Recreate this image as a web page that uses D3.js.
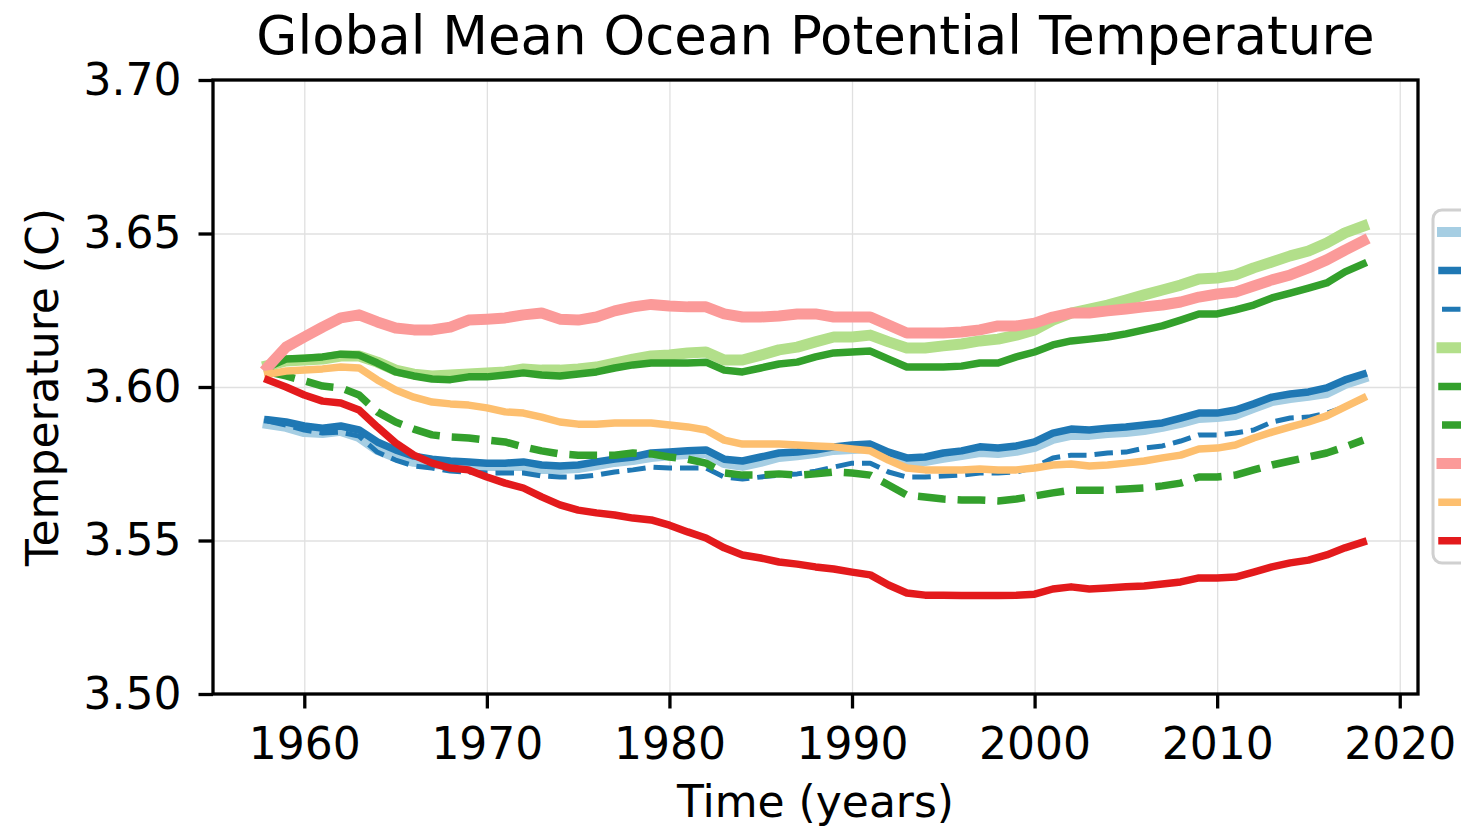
<!DOCTYPE html>
<html>
<head>
<meta charset="utf-8">
<script src="https://cdn.jsdelivr.net/npm/d3@7"></script>
<style>
  body { margin: 0; background: #fff; }
  text { font-family: "DejaVu Sans", sans-serif; fill: #000; }
</style>
</head>
<body>
<svg id="chart"></svg>
<script>
var width = 1461; // Width of the SVG element
var height = 828; // Height of the SVG element
var margin = { top: 80, right: 43, bottom: 134, left: 213 };
var plotW = width - margin.left - margin.right;
var plotH = height - margin.top - margin.bottom;

// Years on the x axis
var years = [1958, 1959, 1960, 1961, 1962, 1963, 1964, 1965, 1966, 1967,
  1968, 1969, 1970, 1971, 1972, 1973, 1974, 1975, 1976, 1977,
  1978, 1979, 1980, 1981, 1982, 1983, 1984, 1985, 1986, 1987,
  1988, 1989, 1990, 1991, 1992, 1993, 1994, 1995, 1996, 1997,
  1998, 1999, 2000, 2001, 2002, 2003, 2004, 2005, 2006, 2007,
  2008, 2009, 2010, 2011, 2012, 2013, 2014, 2015, 2016, 2017, 2018];

var xTicks = [1960, 1970, 1980, 1990, 2000, 2010, 2020];
var yTicks = [3.50, 3.55, 3.60, 3.65, 3.70];

// Series values (degrees C)
var lightBlue = [3.5879, 3.5870, 3.5853, 3.5850, 3.5857, 3.5837, 3.5795, 3.5772, 3.5756, 3.5749,
  3.5746, 3.5743, 3.5743, 3.5743, 3.5743, 3.5733, 3.5733, 3.5736, 3.5746, 3.5756,
  3.5762, 3.5772, 3.5778, 3.5782, 3.5785, 3.5752, 3.5743, 3.5756, 3.5772, 3.5778,
  3.5785, 3.5795, 3.5798, 3.5801, 3.5772, 3.5756, 3.5759, 3.5769, 3.5778, 3.5788,
  3.5785, 3.5792, 3.5805, 3.5831, 3.5844, 3.5844, 3.5850, 3.5853, 3.5860, 3.5870,
  3.5883, 3.5899, 3.5902, 3.5909, 3.5932, 3.5954, 3.5964, 3.5971, 3.5980, 3.6010, 3.6029];

var darkBlue = [3.5893, 3.5886, 3.5873, 3.5866, 3.5873, 3.5860, 3.5821, 3.5795, 3.5775, 3.5765,
  3.5759, 3.5756, 3.5752, 3.5752, 3.5756, 3.5746, 3.5743, 3.5746, 3.5756, 3.5765,
  3.5772, 3.5785, 3.5788, 3.5792, 3.5795, 3.5765, 3.5759, 3.5772, 3.5785, 3.5788,
  3.5795, 3.5805, 3.5811, 3.5814, 3.5788, 3.5769, 3.5772, 3.5785, 3.5792, 3.5805,
  3.5801, 3.5808, 3.5821, 3.5850, 3.5863, 3.5860, 3.5866, 3.5870, 3.5876, 3.5883,
  3.5899, 3.5915, 3.5915, 3.5925, 3.5945, 3.5967, 3.5977, 3.5984, 3.5997, 3.6023, 3.6042];

var darkBlueDashed = [3.5889, 3.5876, 3.5860, 3.5850, 3.5853, 3.5840, 3.5788, 3.5762, 3.5743, 3.5736,
  3.5726, 3.5723, 3.5720, 3.5720, 3.5720, 3.5710, 3.5707, 3.5707, 3.5713, 3.5723,
  3.5730, 3.5739, 3.5736, 3.5736, 3.5736, 3.5707, 3.5700, 3.5707, 3.5713, 3.5717,
  3.5726, 3.5739, 3.5752, 3.5752, 3.5723, 3.5707, 3.5707, 3.5710, 3.5713, 3.5720,
  3.5720, 3.5723, 3.5739, 3.5769, 3.5778, 3.5778, 3.5785, 3.5788, 3.5801, 3.5808,
  3.5824, 3.5844, 3.5844, 3.5850, 3.5860, 3.5886, 3.5899, 3.5902, 3.5915, 3.5935, 3.5961];

var lightGreen = [3.6070, 3.6085, 3.6088, 3.6091, 3.6101, 3.6101, 3.6081, 3.6055, 3.6042, 3.6036,
  3.6039, 3.6042, 3.6046, 3.6049, 3.6059, 3.6055, 3.6055, 3.6059, 3.6065, 3.6078,
  3.6091, 3.6101, 3.6104, 3.6111, 3.6114, 3.6088, 3.6088, 3.6104, 3.6121, 3.6130,
  3.6147, 3.6163, 3.6163, 3.6169, 3.6147, 3.6127, 3.6127, 3.6134, 3.6140, 3.6150,
  3.6156, 3.6169, 3.6186, 3.6218, 3.6241, 3.6254, 3.6267, 3.6283, 3.6300, 3.6316,
  3.6332, 3.6352, 3.6355, 3.6365, 3.6388, 3.6407, 3.6427, 3.6443, 3.6469, 3.6502, 3.6524];

var darkGreen = [3.6065, 3.6091, 3.6094, 3.6098, 3.6107, 3.6104, 3.6078, 3.6049, 3.6036, 3.6026,
  3.6024, 3.6033, 3.6033, 3.6039, 3.6046, 3.6039, 3.6036, 3.6042, 3.6049, 3.6062,
  3.6072, 3.6078, 3.6078, 3.6078, 3.6081, 3.6055, 3.6049, 3.6062, 3.6075, 3.6081,
  3.6098, 3.6111, 3.6114, 3.6117, 3.6091, 3.6065, 3.6065, 3.6065, 3.6068, 3.6078,
  3.6078, 3.6098, 3.6114, 3.6137, 3.6150, 3.6156, 3.6163, 3.6173, 3.6186, 3.6199,
  3.6218, 3.6238, 3.6238, 3.6251, 3.6267, 3.6290, 3.6306, 3.6322, 3.6339, 3.6375, 3.6401];

var darkGreenDashed = [3.6049, 3.6036, 3.6020, 3.6003, 3.5997, 3.5974, 3.5919, 3.5886, 3.5863, 3.5844,
  3.5837, 3.5834, 3.5827, 3.5821, 3.5805, 3.5792, 3.5782, 3.5778, 3.5778, 3.5778,
  3.5785, 3.5782, 3.5772, 3.5765, 3.5752, 3.5720, 3.5713, 3.5713, 3.5717, 3.5713,
  3.5717, 3.5723, 3.5720, 3.5713, 3.5681, 3.5648, 3.5642, 3.5635, 3.5632, 3.5632,
  3.5629, 3.5635, 3.5645, 3.5655, 3.5664, 3.5664, 3.5664, 3.5668, 3.5671, 3.5678,
  3.5687, 3.5707, 3.5707, 3.5713, 3.5730, 3.5746, 3.5759, 3.5772, 3.5785, 3.5805, 3.5827];

var pink = [3.6065, 3.6130, 3.6163, 3.6195, 3.6225, 3.6235, 3.6212, 3.6192, 3.6186, 3.6186,
  3.6195, 3.6218, 3.6221, 3.6225, 3.6235, 3.6241, 3.6221, 3.6218, 3.6228, 3.6248,
  3.6261, 3.6269, 3.6264, 3.6261, 3.6261, 3.6238, 3.6228, 3.6228, 3.6231, 3.6238,
  3.6238, 3.6228, 3.6228, 3.6228, 3.6202, 3.6176, 3.6176, 3.6176, 3.6179, 3.6186,
  3.6199, 3.6199, 3.6208, 3.6228, 3.6241, 3.6241, 3.6248, 3.6254, 3.6261, 3.6267,
  3.6277, 3.6293, 3.6303, 3.6309, 3.6329, 3.6349, 3.6365, 3.6388, 3.6414, 3.6446, 3.6476];

var orange = [3.6042, 3.6052, 3.6055, 3.6059, 3.6065, 3.6062, 3.6023, 3.5990, 3.5967, 3.5951,
  3.5945, 3.5941, 3.5932, 3.5919, 3.5915, 3.5902, 3.5886, 3.5879, 3.5879, 3.5883,
  3.5883, 3.5883, 3.5876, 3.5870, 3.5860, 3.5827, 3.5814, 3.5814, 3.5814, 3.5811,
  3.5808, 3.5805, 3.5798, 3.5792, 3.5762, 3.5736, 3.5730, 3.5730, 3.5730, 3.5733,
  3.5730, 3.5730, 3.5736, 3.5746, 3.5749, 3.5743, 3.5746, 3.5752, 3.5759, 3.5769,
  3.5778, 3.5798, 3.5801, 3.5811, 3.5834, 3.5853, 3.5870, 3.5886, 3.5906, 3.5935, 3.5964];

var red = [3.6023, 3.6000, 3.5974, 3.5954, 3.5948, 3.5925, 3.5870, 3.5818, 3.5778, 3.5752,
  3.5736, 3.5730, 3.5707, 3.5687, 3.5671, 3.5642, 3.5616, 3.5599, 3.5590, 3.5583,
  3.5573, 3.5567, 3.5550, 3.5528, 3.5508, 3.5476, 3.5453, 3.5443, 3.5430, 3.5423,
  3.5414, 3.5407, 3.5397, 3.5388, 3.5355, 3.5329, 3.5322, 3.5322, 3.5321, 3.5321,
  3.5321, 3.5322, 3.5325, 3.5342, 3.5349, 3.5342, 3.5345, 3.5349, 3.5352, 3.5358,
  3.5365, 3.5378, 3.5378, 3.5381, 3.5397, 3.5414, 3.5427, 3.5436, 3.5453, 3.5476, 3.5495];

// Line styles, in drawing (and legend) order
var series = [
  { values: lightBlue,       color: "#a6cee3", lw: 10,  dashed: false },
  { values: darkBlue,        color: "#1f78b4", lw: 7.5, dashed: false },
  { values: darkBlueDashed,  color: "#1f78b4", lw: 5,   dashed: true },
  { values: lightGreen,      color: "#b2df8a", lw: 11,  dashed: false },
  { values: darkGreen,       color: "#33a02c", lw: 7.5, dashed: false },
  { values: darkGreenDashed, color: "#33a02c", lw: 7.5, dashed: true },
  { values: pink,            color: "#fb9a99", lw: 11,  dashed: false },
  { values: orange,          color: "#fdbf6f", lw: 7.5, dashed: false },
  { values: red,             color: "#e31a1c", lw: 7.5, dashed: false }
];

var svg = d3.select("#chart")
  .attr("width", width)
  .attr("height", height);

var g = svg.append("g")
  .attr("transform", "translate(" + margin.left + "," + margin.top + ")");

// Scales (matplotlib style 5% margins around 1958-2018)
var x = d3.scaleLinear().domain([1955, 2021]).range([0, plotW]);
var y = d3.scaleLinear().domain([3.5, 3.7]).range([plotH, 0]);

// Grid lines
g.append("g")
  .attr("class", "grid")
  .call(d3.axisBottom(x).tickValues(xTicks).tickSize(plotH).tickFormat(""))
  .call(function(s) { s.select(".domain").remove(); });

g.append("g")
  .attr("class", "grid")
  .call(d3.axisLeft(y).tickValues(yTicks).tickSize(-plotW).tickFormat(""))
  .call(function(s) { s.select(".domain").remove(); });

g.selectAll(".grid line")
  .style("stroke", "#e0e0e0")
  .style("stroke-width", 1.3);

// Clip lines to the plot area
g.append("clipPath").attr("id", "plotclip")
  .append("rect").attr("width", plotW).attr("height", plotH);

var line = d3.line()
  .x(function(d, i) { return x(years[i]); })
  .y(function(d) { return y(d); });

g.append("g")
  .attr("clip-path", "url(#plotclip)")
  .selectAll("path")
  .data(series)
  .enter()
  .append("path")
  .attr("d", function(d) { return line(d.values); })
  .attr("fill", "none")
  .attr("stroke", function(d) { return d.color; })
  .attr("stroke-width", function(d) { return d.lw; })
  .attr("stroke-linejoin", "round")
  .attr("stroke-linecap", function(d) { return d.dashed ? "butt" : "square"; })
  .attr("stroke-dasharray", function(d) { return d.dashed ? (d.lw * 3.7) + "," + (d.lw * 1.6) : null; });

// Axes
var xAxis = g.append("g")
  .attr("transform", "translate(0," + plotH + ")")
  .call(d3.axisBottom(x).tickValues(xTicks).tickFormat(d3.format("d")).tickSize(14.5).tickPadding(19));

var yAxis = g.append("g")
  .call(d3.axisLeft(y).tickValues(yTicks).tickFormat(d3.format(".2f")).tickSize(14.5).tickPadding(17));

[xAxis, yAxis].forEach(function(a) {
  a.select(".domain").remove();
  a.selectAll(".tick line").attr("stroke", "#000").attr("stroke-width", 3.3);
  a.selectAll(".tick text")
    .attr("fill", "#000")
    .style("font-size", "44px")
    .style("font-family", "'DejaVu Sans', sans-serif");
});

// Frame (all four spines)
g.append("rect")
  .attr("width", plotW)
  .attr("height", plotH)
  .attr("fill", "none")
  .attr("stroke", "#000")
  .attr("stroke-width", 3.3);

// Title and axis labels
svg.append("text")
  .attr("x", margin.left + plotW / 2)
  .attr("y", 54)
  .attr("text-anchor", "middle")
  .style("font-size", "53px")
  .text("Global Mean Ocean Potential Temperature");

svg.append("text")
  .attr("x", margin.left + plotW / 2)
  .attr("y", 817)
  .attr("text-anchor", "middle")
  .style("font-size", "44px")
  .text("Time (years)");

svg.append("text")
  .attr("transform", "translate(58," + (margin.top + plotH / 2) + ") rotate(-90)")
  .attr("text-anchor", "middle")
  .style("font-size", "44px")
  .text("Temperature (C)");

// Legend (runs off the right edge like the original)
var legend = svg.append("g").attr("transform", "translate(1433,210)");

legend.append("rect")
  .attr("width", 120)
  .attr("height", 353)
  .attr("rx", 9)
  .attr("fill", "#fff")
  .attr("fill-opacity", 0.8)
  .attr("stroke", "#d0d0d0")
  .attr("stroke-width", 3);

legend.selectAll(".sample")
  .data(series)
  .enter()
  .append("line")
  .attr("class", "sample")
  .attr("x1", 9)
  .attr("x2", 90)
  .attr("y1", function(d, i) { return 22 + i * 38.6; })
  .attr("y2", function(d, i) { return 22 + i * 38.6; })
  .attr("stroke", function(d) { return d.color; })
  .attr("stroke-width", function(d) { return d.lw; })
  .attr("stroke-linecap", function(d) { return d.dashed ? "butt" : "square"; })
  .attr("stroke-dasharray", function(d) { return d.dashed ? (d.lw * 3.7) + "," + (d.lw * 1.6) : null; });
</script>
</body>
</html>
